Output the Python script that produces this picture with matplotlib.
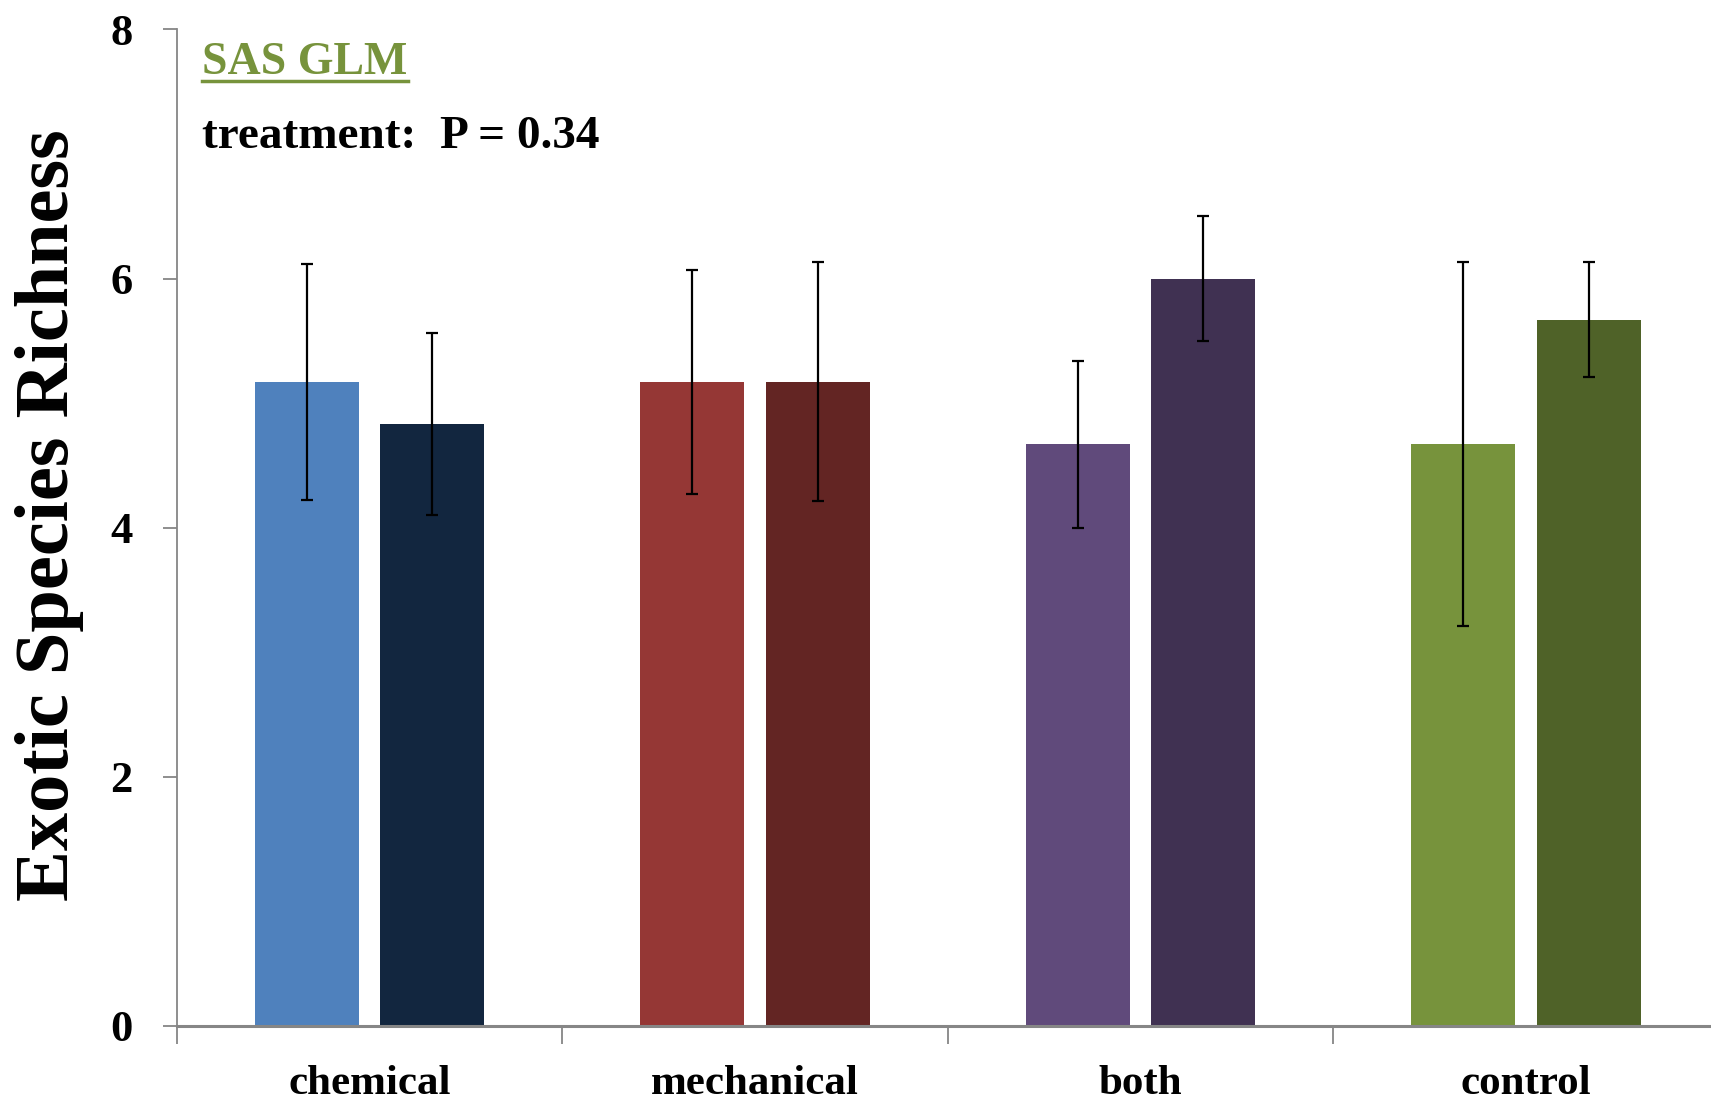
import matplotlib
matplotlib.use("Agg")
import matplotlib.pyplot as plt
import numpy as np

# Treatment groups and the two bars shown within each group
categories = ["chemical", "mechanical", "both", "control"]
richness_a = [5.17, 5.17, 4.67, 4.67]
richness_b = [4.83, 5.17, 6.00, 5.67]
err_a = [0.95, 0.90, 0.67, 1.46]
err_b = [0.73, 0.96, 0.50, 0.46]
colors_a = ["#4F81BD", "#953735", "#604A7B", "#77933C"]
colors_b = ["#12263F", "#632523", "#403152", "#4F6228"]
y_ticks = [0, 2, 4, 6, 8]

serif = ["Liberation Serif", "DejaVu Serif"]
plt.rcParams["font.family"] = serif

fig = plt.figure(figsize=(17.11, 11), dpi=100)
ax = fig.add_axes([0.1034, 0.0675, 0.901, 0.9057])

x = np.arange(len(categories))
width = 0.27
offset = 0.163
ekw = dict(ecolor="black", elinewidth=1.6, capsize=4.5, capthick=1.6)
ax.bar(x - offset, richness_a, width, color=colors_a, yerr=err_a, error_kw=ekw, zorder=2)
ax.bar(x + offset, richness_b, width, color=colors_b, yerr=err_b, error_kw=ekw, zorder=2)

ax.set_xlim(-0.5, len(categories) - 0.5)
ax.set_ylim(0, 8)
ax.set_yticks(y_ticks)
ax.set_yticklabels([str(t) for t in y_ticks])

# Category labels centred, tick marks at group boundaries
ax.set_xticks(x)
ax.set_xticklabels(categories)
ax.set_xticks(np.arange(-0.5, len(categories) - 0.5, 1.0), minor=True)
ax.tick_params(axis="x", which="major", length=0, pad=28, labelsize=31)
ax.tick_params(axis="x", which="minor", length=13, width=1.3, color="#868686")
ax.tick_params(axis="y", length=10, width=1.3, color="#868686", pad=22, labelsize=32)
for lbl in ax.get_xticklabels() + ax.get_yticklabels():
    lbl.set_fontweight("bold")

for s in ["top", "right"]:
    ax.spines[s].set_visible(False)
ax.spines["left"].set_color("#868686")
ax.spines["left"].set_linewidth(1.3)
ax.spines["bottom"].set_color("#868686")
ax.spines["bottom"].set_linewidth(2.2)

ax.set_ylabel("Exotic Species Richness", fontsize=55, fontweight="bold")
ax.yaxis.set_label_coords(-0.060, 0.513)

ax.text(0.0165, 0.966, "SAS GLM", transform=ax.transAxes, fontsize=33,
        fontweight="bold", color="#77933C", va="center", ha="left")
# underline beneath the heading
fig.canvas.draw()
t = ax.texts[0]
bb = t.get_window_extent(renderer=fig.canvas.get_renderer())
inv = fig.transFigure.inverted()
(x0, y0), (x1, y1) = inv.transform([(bb.x0, bb.y0), (bb.x1, bb.y1)])
fig.add_artist(plt.Line2D([x0, x1], [y0 + 0.003, y0 + 0.003], color="#77933C", lw=2.5))

ax.text(0.0165, 0.892, "treatment:  P = 0.34", transform=ax.transAxes, fontsize=34,
        fontweight="bold", color="black", va="center", ha="left")

fig.savefig("out.png", dpi=100)
